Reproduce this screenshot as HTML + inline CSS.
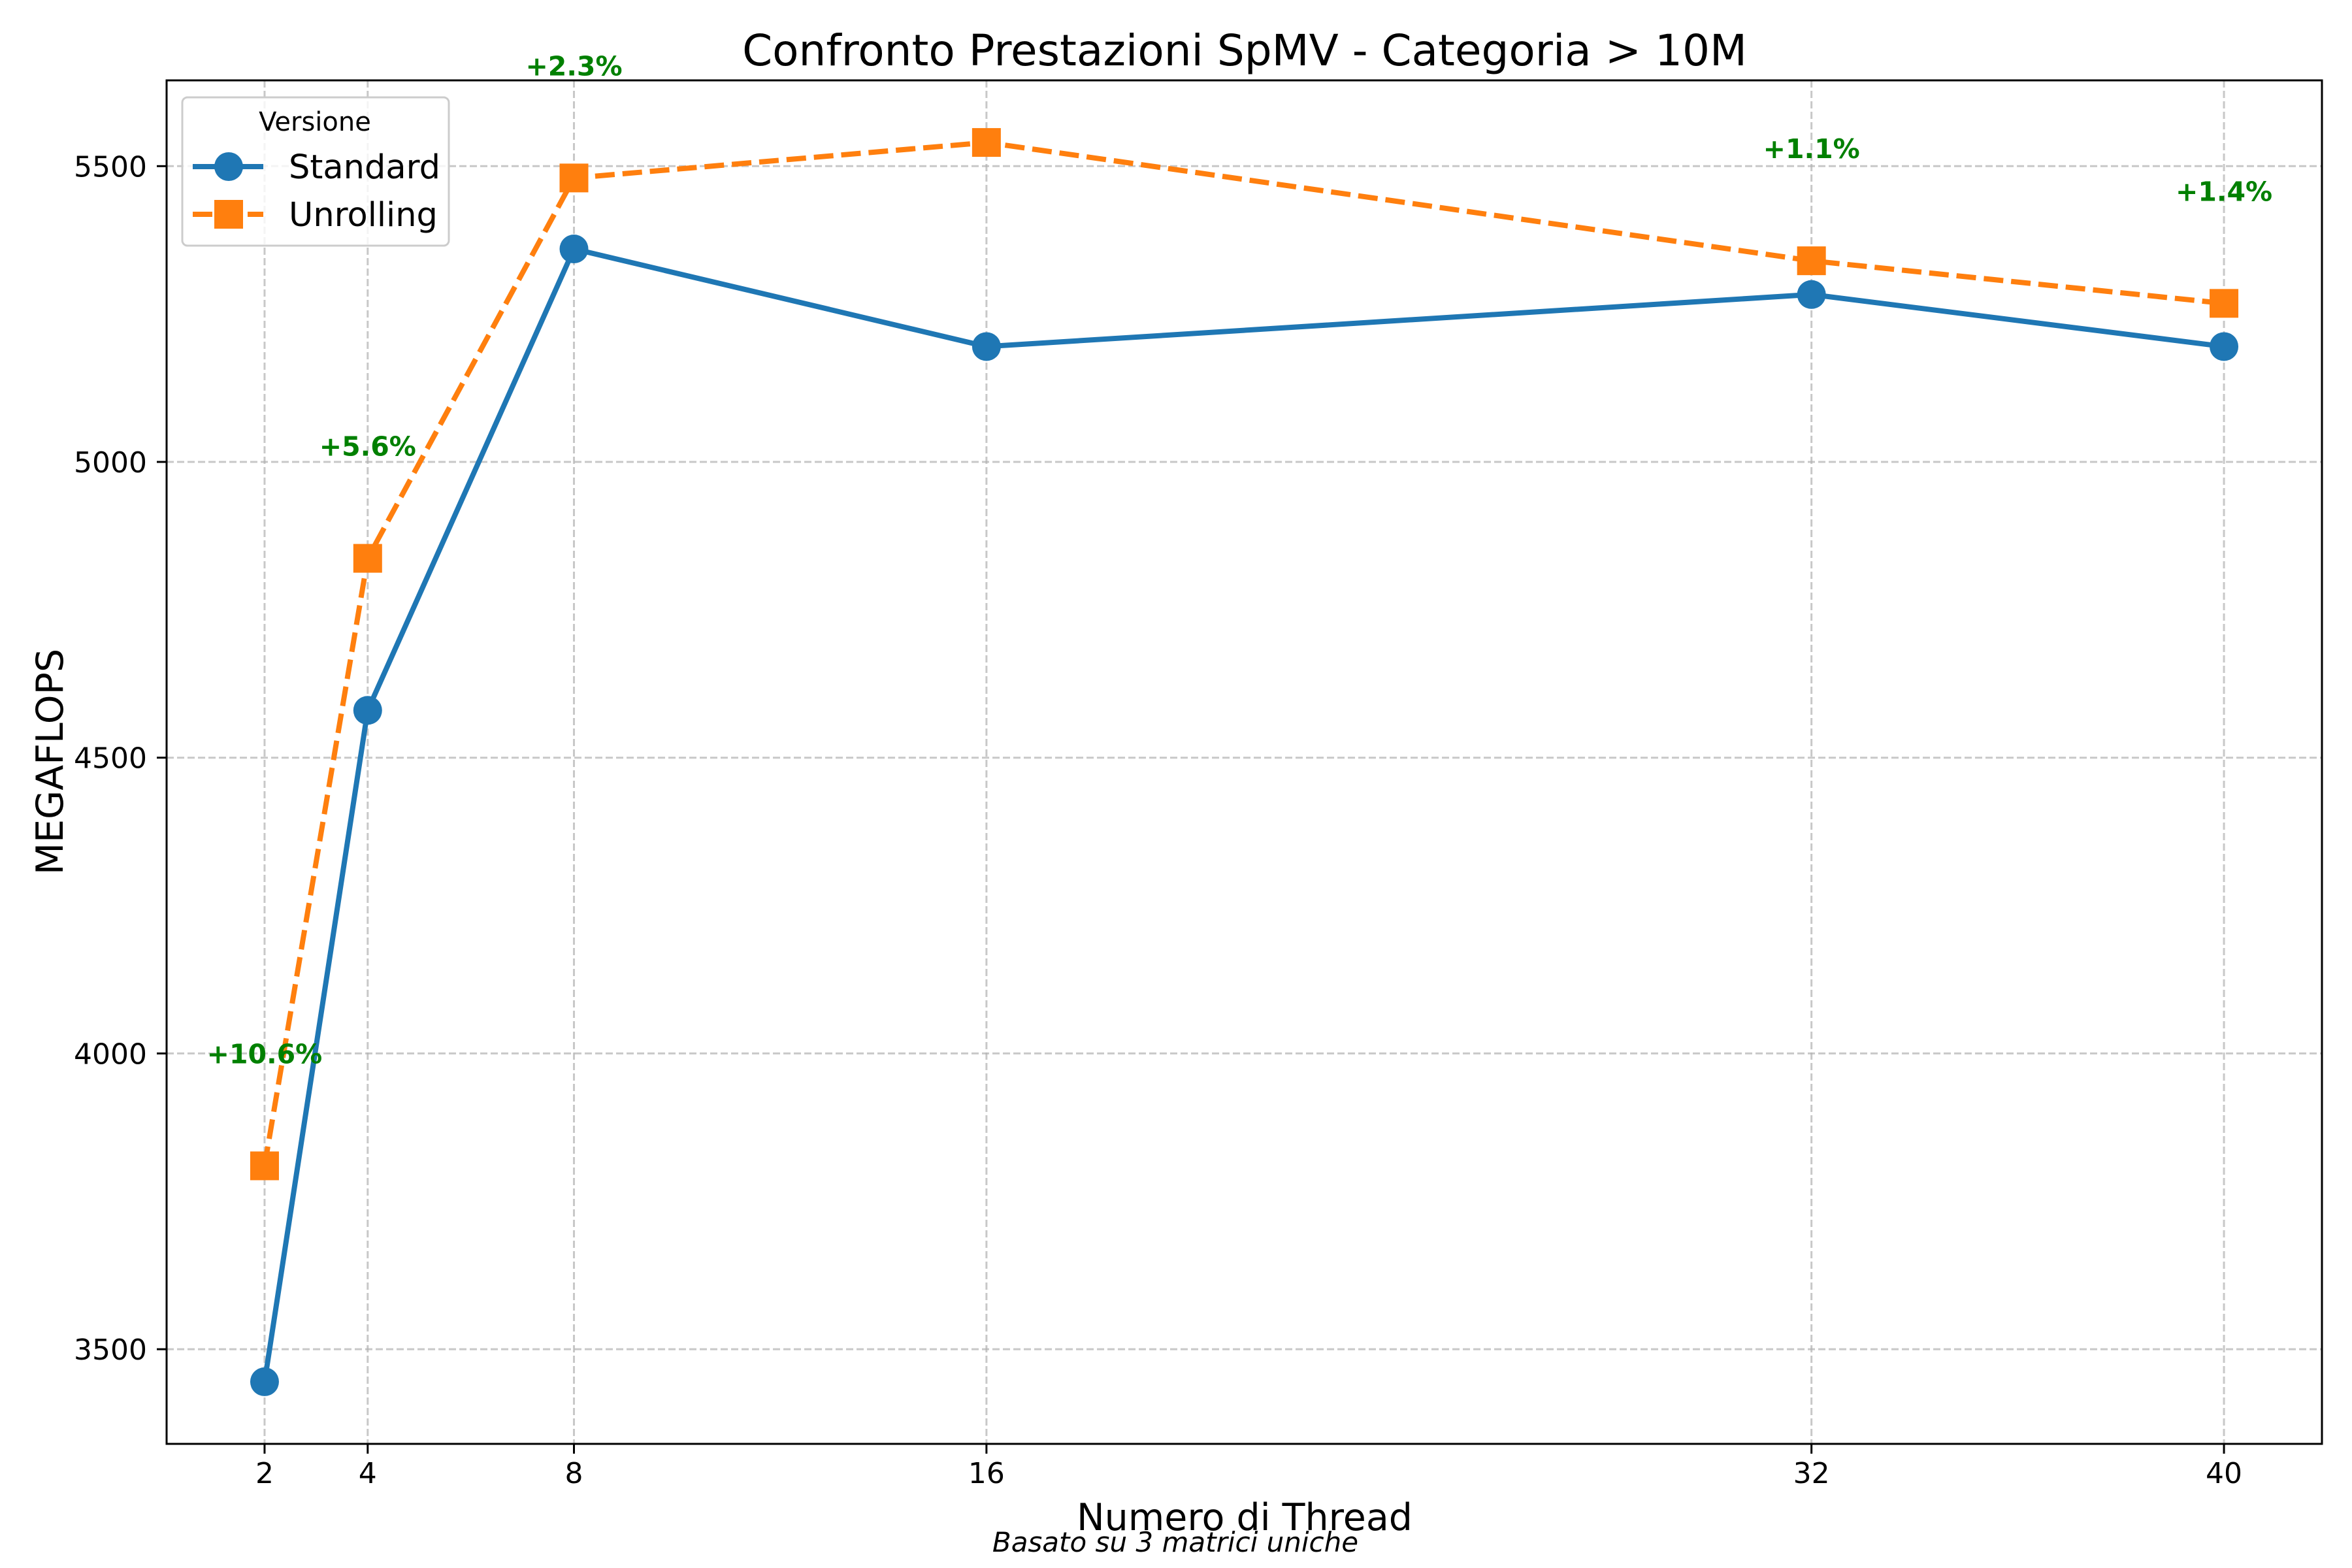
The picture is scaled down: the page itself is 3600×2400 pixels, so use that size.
<!DOCTYPE html>
<html><head><meta charset="utf-8"><style>
html,body{margin:0;padding:0;background:#fff}
svg{display:block;font-family:"DejaVu Sans","Liberation Sans",sans-serif}
</style></head><body>
<svg id="chart" width="3600" height="2400" viewBox="0 0 3600 2400" xmlns="http://www.w3.org/2000/svg">
<rect width="3600" height="2400" fill="#fff"/>
<g id="grid"></g>
<g id="series"></g>
<g id="annots"></g>
<rect x="255" y="123" width="3299" height="2087" fill="none" stroke="#000" stroke-width="3"/>
<g id="ticks"></g>
<text x="1905" y="100" font-size="66" text-anchor="middle">Confronto Prestazioni SpMV - Categoria &gt; 10M</text>
<text x="1905" y="2342" font-size="57" text-anchor="middle">Numero di Thread</text>
<text x="96" y="1166" font-size="57" text-anchor="middle" transform="rotate(-90 96 1166)">MEGAFLOPS</text>
<text x="1799" y="2375" font-size="42" font-style="italic" text-anchor="middle">Basato su 3 matrici uniche</text>
<g>
<rect x="279" y="149" width="408" height="227" rx="8" fill="#fff" fill-opacity="0.8" stroke="#ccc" stroke-width="3"/>
<text x="482" y="200" font-size="40" text-anchor="middle">Versione</text>
<g>
<line x1="295" y1="255" x2="403" y2="255" stroke="#1f77b4" stroke-width="8"/>
<circle cx="350" cy="255" r="22" fill="#1f77b4"/>
<text x="442" y="273" font-size="51">Standard</text>
</g>
<g>
<line x1="295" y1="328" x2="403" y2="328" stroke="#ff7f0e" stroke-width="8" stroke-dasharray="30,12"/>
<rect x="328" y="306" width="44" height="44" fill="#ff7f0e"/>
<text x="442" y="346" font-size="51">Unrolling</text>
</g>
</g>
</svg>
<script>
const threads = [2, 4, 8, 16, 32, 40];
const standardValues = [3445, 4580, 5360, 5195, 5283, 5195];
const unrollingValues = [3810, 4837, 5480, 5540, 5340, 5268];
const annotThreads = [2, 4, 8, 32, 40];
const annotLabels = ["+10.6%", "+5.6%", "+2.3%", "+1.1%", "+1.4%"];
const annotBase = [3810, 4837, 5480, 5340, 5268];
const yTicks = [3500, 4000, 4500, 5000, 5500];

const X0=255, X1=3554, Y0=123, Y1=2210, XMIN=0.1, XMAX=41.9, YMIN=3340, YMAX=5645;
const xs = v => X0 + (v - XMIN) / (XMAX - XMIN) * (X1 - X0);
const ys = v => Y1 - (v - YMIN) / (YMAX - YMIN) * (Y1 - Y0);
const NS = "http://www.w3.org/2000/svg";
function mk(tag, attrs, parent){const e=document.createElementNS(NS,tag);for(const k in attrs)e.setAttribute(k,attrs[k]);parent.appendChild(e);return e;}
const grid=document.getElementById('grid'), ticks=document.getElementById('ticks'), series=document.getElementById('series'), annots=document.getElementById('annots');

threads.forEach(t=>{
  const x=xs(t);
  const g=mk('line',{x1:x,y1:Y0,x2:x,y2:Y1,stroke:'#b0b0b0','stroke-opacity':0.7,'stroke-width':3,'stroke-dasharray':'11,5'},grid);
  
  
  const tk=mk('line',{x1:x,y1:Y1,x2:x,y2:Y1+15,stroke:'#000','stroke-width':3},ticks);
  
  
  const tl=mk('text',{x:x,y:2270,'font-size':44,'text-anchor':'middle'},ticks);
  tl.textContent=t;
  
  
});
yTicks.forEach(v=>{
  const y=ys(v);
  const g=mk('line',{x1:X0,y1:y,x2:X1,y2:y,stroke:'#b0b0b0','stroke-opacity':0.7,'stroke-width':3,'stroke-dasharray':'11,5'},grid);
  
  
  const tk=mk('line',{x1:X0-15,y1:y,x2:X0,y2:y,stroke:'#000','stroke-width':3},ticks);
  
  
  const tl=mk('text',{x:X0-30,y:y+16,'font-size':44,'text-anchor':'end'},ticks);
  tl.textContent=v;
  
  
});
function pts(vals){return threads.map((t,i)=>xs(t)+','+ys(vals[i])).join(' ');}
const ls=mk('polyline',{points:pts(standardValues),fill:'none',stroke:'#1f77b4','stroke-width':8,'stroke-linejoin':'round'},series);


const lu=mk('polyline',{points:pts(unrollingValues),fill:'none',stroke:'#ff7f0e','stroke-width':8,'stroke-dasharray':'30,12'},series);


threads.forEach((t,i)=>{
  const c=mk('circle',{cx:xs(t),cy:ys(standardValues[i]),r:22,fill:'#1f77b4'},series);
  
  
  const s=mk('rect',{x:xs(t)-22,y:ys(unrollingValues[i])-22,width:44,height:44,fill:'#ff7f0e'},series);
  
  
});
annotThreads.forEach((t,i)=>{
  const a=mk('text',{x:xs(t),y:ys(annotBase[i]+190)+15,'font-size':41,'font-weight':'bold',fill:'#008000','text-anchor':'middle'},annots);
  a.textContent=annotLabels[i];
  
  
});
</script>
</body></html>
